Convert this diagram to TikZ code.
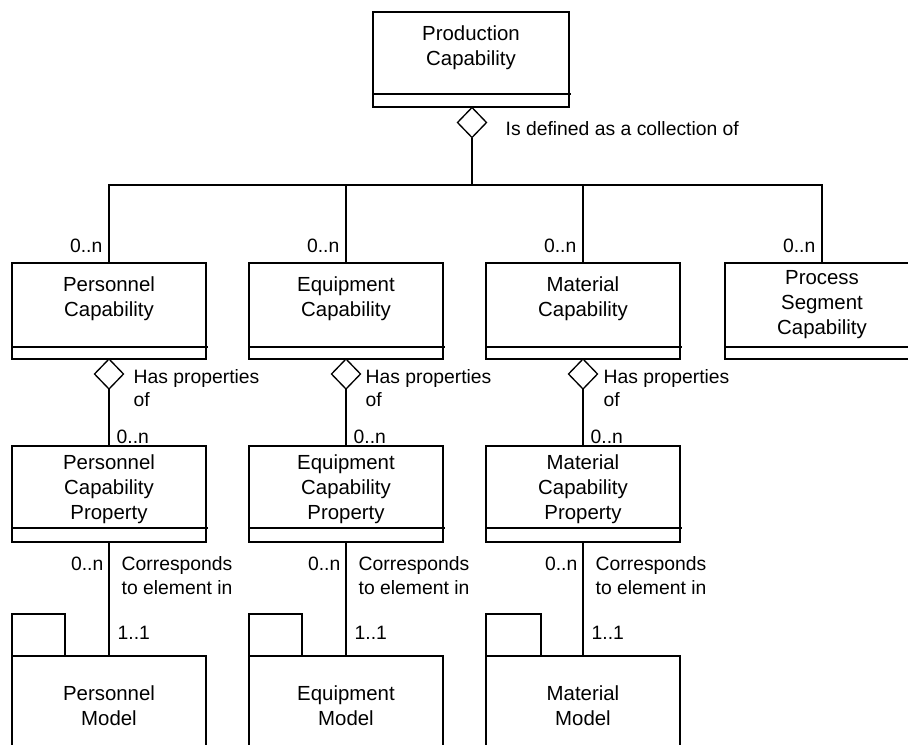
\documentclass[tikz,border=0pt]{standalone}
\usepackage{fontspec}
\setmainfont{Liberation Sans}
\usetikzlibrary{shapes.geometric}
\begin{document}
\begin{tikzpicture}[x=0.75pt,y=-0.75pt, line width=1pt,
  cls/.style={draw, rectangle, inner sep=0pt, outer sep=0pt, minimum width=145.5pt, minimum height=72pt},
  modelbox/.style={draw, rectangle, inner sep=0pt, outer sep=0pt, minimum width=145.5pt, minimum height=90pt},
  tabbox/.style={draw, rectangle, inner sep=0pt, outer sep=0pt, minimum width=39.75pt, minimum height=31.5pt},
  ctext/.style={align=center, font=\fontsize{15.3}{18.75}\selectfont, inner sep=0pt},
  lbl/.style={font=\fontsize{14.5}{17.5}\selectfont, inner sep=0pt, align=left},
  agg/.style={draw, diamond, inner sep=0pt, outer sep=0pt, minimum width=21.75pt, minimum height=22.5pt, fill=white},
  ]
\path[use as bounding box, clip] (0,0) rectangle (908,744);

% ---- top class
\node[cls, minimum width=147pt, minimum height=71.25pt] (prod) at (471,59.5) {};
\draw (373,94) -- (571,94);
\node[ctext] (prodt) at (471,47.5) {Production\\Capability};
\node[agg] (d0) at (472,122.5) {};
\node[lbl, anchor=west] (l0) at (505,129) {Is defined as a collection of};
\coordinate (busc) at (472,185);

% ---- row 1
\node[cls] (pc) at (109,311) {};
\node[cls] (ec) at (346,311) {};
\node[cls] (mc) at (583,311) {};
\node[cls] (psc) at (822,311) {};
\foreach \n/\x in {pc/12,ec/249,mc/486,psc/725}{
  \draw (\x,347) -- ++(196,0);
}
\node[ctext] (pct) at (109,298.5) {Personnel\\Capability};
\node[ctext] (ect) at (346,298.5) {Equipment\\Capability};
\node[ctext] (mct) at (583,298.5) {Material\\Capability};
\node[ctext] (psct) at (822,305) {Process\\Segment\\Capability};

% bus
\draw (d0.south) -- (busc);
\draw (pc.north) |- (busc) -| (psc.north);
\draw (ec.north) -- (ec.north |- busc);
\draw (mc.north) -- (mc.north |- busc);

\node[lbl, anchor=east] (n1) at (103,246) {0..n};
\node[lbl, anchor=east] (n2) at (340,246) {0..n};
\node[lbl, anchor=east] (n3) at (577,246) {0..n};
\node[lbl, anchor=east] (n4) at (816,246) {0..n};

% ---- diamonds row 1
\node[agg] (dp) at (109,374) {};
\node[agg] (de) at (346,374) {};
\node[agg] (dm) at (583,374) {};
\node[lbl, anchor=west] (hp) at (133,388) {Has properties\\of};
\node[lbl, anchor=west] (he) at (365,388) {Has properties\\of};
\node[lbl, anchor=west] (hm) at (603,388) {Has properties\\of};

% ---- row 2
\node[cls] (pcp) at (109,494) {};
\node[cls] (ecp) at (346,494) {};
\node[cls] (mcp) at (583,494) {};
\foreach \x in {12,249,486}{
  \draw (\x,528) -- ++(196,0);
}
\node[ctext] (pcpt) at (109,489) {Personnel\\Capability\\Property};
\node[ctext] (ecpt) at (346,489) {Equipment\\Capability\\Property};
\node[ctext] (mcpt) at (583,489) {Material\\Capability\\Property};

\draw (dp.south) -- (pcp.north);
\draw (de.south) -- (ecp.north);
\draw (dm.south) -- (mcp.north);
\node[lbl, anchor=west] (m1) at (116,437) {0..n};
\node[lbl, anchor=west] (m2) at (353,437) {0..n};
\node[lbl, anchor=west] (m3) at (590,437) {0..n};

% ---- models
\node[modelbox] (pm) at (109,716) {};
\node[modelbox] (em) at (346,716) {};
\node[modelbox] (mm) at (583,716) {};
\node[tabbox] (pmt) at (38.5,635) {};
\node[tabbox] (emt) at (275.5,635) {};
\node[tabbox, minimum width=41.25pt] (mmt) at (513.5,635) {};
\node[ctext] (pmx) at (109,705.5) {Personnel\\Model};
\node[ctext] (emx) at (346,705.5) {Equipment\\Model};
\node[ctext] (mmx) at (583,705.5) {Material\\Model};

\draw (pcp.south) -- (pm.north);
\draw (ecp.south) -- (em.north);
\draw (mcp.south) -- (mm.north);

\node[lbl, anchor=east] (a1) at (104,564) {0..n};
\node[lbl, anchor=east] (a2) at (341,564) {0..n};
\node[lbl, anchor=east] (a3) at (578,564) {0..n};
\node[lbl, anchor=west] (c1) at (121,575.5) {Corresponds\\to element in};
\node[lbl, anchor=west] (c2) at (358,575.5) {Corresponds\\to element in};
\node[lbl, anchor=west] (c3) at (595,575.5) {Corresponds\\to element in};
\node[lbl, anchor=west] (o1) at (117,633) {1..1};
\node[lbl, anchor=west] (o2) at (354,633) {1..1};
\node[lbl, anchor=west] (o3) at (591,633) {1..1};
\end{tikzpicture}
\end{document}
